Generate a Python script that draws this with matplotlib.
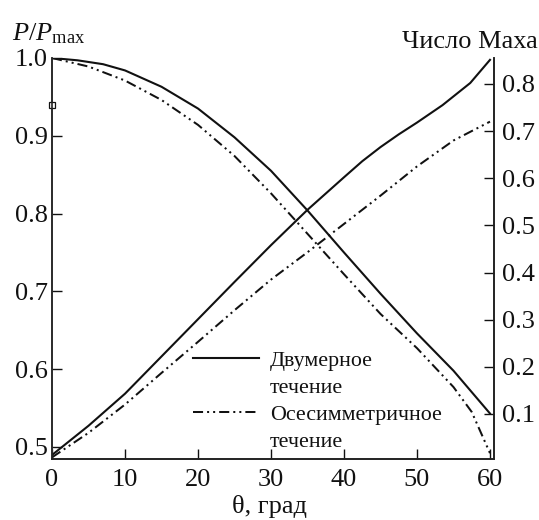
import matplotlib
matplotlib.use("Agg")
import matplotlib.pyplot as plt
from matplotlib.lines import Line2D

plt.rcParams['font.family'] = ['Liberation Serif', 'DejaVu Serif']
plt.rcParams['mathtext.fontset'] = 'custom'
plt.rcParams['mathtext.rm'] = 'Liberation Serif'
plt.rcParams['mathtext.it'] = 'Liberation Serif:italic'

# Pressure ratio P/Pmax versus angle
theta_p = [0, 3.5, 7, 10, 15, 20, 25, 30, 35, 40, 45, 50, 55, 58, 60]
p_2d = [1.0, 0.997, 0.992, 0.984, 0.963, 0.935, 0.898, 0.855, 0.804,
        0.750, 0.697, 0.646, 0.598, 0.565, 0.543]
theta_pa = [0, 5, 10, 15, 20, 25, 30, 35, 40, 45, 50, 55, 57.5, 60]
p_axi = [1.0, 0.989, 0.971, 0.946, 0.914, 0.874, 0.826, 0.774,
         0.722, 0.671, 0.627, 0.577, 0.545, 0.492]

# Mach number versus angle
theta_m = [0, 5, 10, 15, 20, 25, 30, 35, 40, 42.5, 45, 47.5, 50, 53.5, 57.3, 60]
m_2d = [0.013, 0.075, 0.143, 0.222, 0.301, 0.380, 0.458, 0.533, 0.602,
        0.636, 0.666, 0.693, 0.718, 0.755, 0.802, 0.851]
theta_ma = [0, 5, 10, 15, 20, 25, 30, 35, 40, 45, 50, 55, 60]
m_axi = [0.008, 0.060, 0.120, 0.187, 0.253, 0.320, 0.385, 0.443, 0.503,
         0.563, 0.625, 0.680, 0.720]

# Reference mark on the pressure axis
mark_theta = [0]
mark_p = [0.9396]

x_ticks = [0, 10, 20, 30, 40, 50, 60]
p_ticks = [0.5, 0.6, 0.7, 0.8, 0.9, 1.0]
m_ticks = [0.1, 0.2, 0.3, 0.4, 0.5, 0.6, 0.7, 0.8]
legend_rows = ["Двумерное", "течение", "Осесимметричное", "течение"]

FS = 19
LFS = 15.8
dashdotdot = (0, (5, 2, 1, 2, 1, 2))
ink = '#111111'

fig = plt.figure(figsize=(5.39, 5.20), dpi=100)
ax = fig.add_axes([0.0965, 0.1173, 0.82, 0.7712])
ax2 = ax.twinx()

ax.plot(theta_p, p_2d, color=ink, lw=1.5)
ax.plot(theta_pa, p_axi, color=ink, lw=1.45, linestyle=dashdotdot)
ax.plot(mark_theta, mark_p, marker='s', ms=5, mfc='white', mec=ink, mew=0.9,
        clip_on=False, zorder=5)

ax2.plot(theta_m, m_2d, color=ink, lw=1.5)
ax2.plot(theta_ma, m_axi, color=ink, lw=1.45, linestyle=dashdotdot)

ax.set_xlim(0, 60.55)
ax.set_ylim(0.4845, 1.0)
ax2.set_ylim(0.0045, 0.855)

ax.set_xticks(x_ticks)
ax.set_xticklabels([str(t) for t in x_ticks])
ax.set_yticks(p_ticks)
ax.set_yticklabels([f"{v:.1f}" for v in p_ticks])
ax2.set_yticks(m_ticks)
ax2.set_yticklabels([f"{v:.1f}" for v in m_ticks])

for a in (ax, ax2):
    a.tick_params(direction='in', length=7, width=1.0, labelsize=FS,
                  colors=ink)
    for s in a.spines.values():
        s.set_linewidth(1.2)
        s.set_color('#222222')
ax.spines['top'].set_visible(False)
ax2.spines['top'].set_visible(False)
ax.spines['left'].set_color('#555555')
ax.tick_params(axis='x', pad=7)
ax.tick_params(axis='y', pad=3)
ax2.tick_params(axis='y', pad=6)

fig.text(12 / 539, 1 - 40 / 520, r"$P/P_{\mathrm{max}}$", fontsize=FS,
         ha='left', va='baseline', color=ink)
fig.text(0.998, 1 - 48 / 520, "Число Маха", fontsize=FS,
         ha='right', va='baseline', color=ink)
fig.text(270 / 539, 1 - 513 / 520, "θ, град", fontsize=FS,
         ha='center', va='baseline', color=ink)

blank = Line2D([], [], color='none')
handles = [Line2D([], [], color=ink, lw=1.5), blank,
           Line2D([], [], color=ink, lw=1.45, linestyle=dashdotdot), blank]
leg = ax.legend(handles, legend_rows, loc='lower left',
                bbox_to_anchor=(0.319, 0.018), frameon=False, fontsize=LFS,
                handlelength=3.0, handletextpad=0.5, labelspacing=0.3,
                borderpad=0, borderaxespad=0)
for t in leg.get_texts():
    t.set_color(ink)

fig.savefig("out.png", dpi=100)
